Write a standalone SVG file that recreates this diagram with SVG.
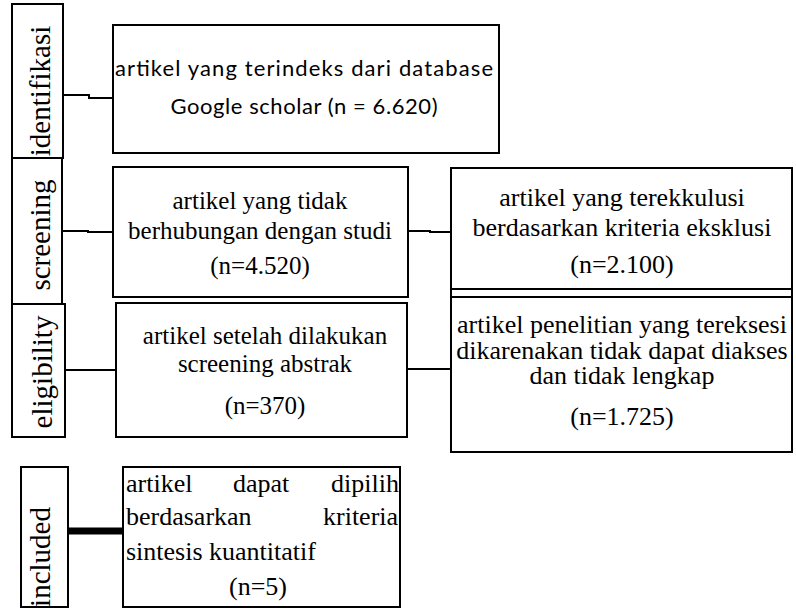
<svg xmlns="http://www.w3.org/2000/svg" width="796" height="609" viewBox="0 0 796 609">
<style>
.box{fill:#fff;stroke:#000;stroke-width:2}
.serif{font-family:'Liberation Serif','Times New Roman',Times,'DejaVu Serif',serif;fill:#000}
.lbl{font-size:29px;text-anchor:middle}
.t{font-size:25px;text-anchor:middle}
.t26{font-size:26px;text-anchor:middle}
.st{text-anchor:start}
.s{font-family:Lato,'Liberation Sans',sans-serif;font-size:22px;fill:#000;text-anchor:middle}
.c{fill:none;stroke:#000;stroke-width:2}
</style>
<rect width="796" height="609" fill="#fff"/>
<g id="connectors">
<path class="c" d="M63,95 H89 V98 H113"/>
<path class="c" d="M62,231 H88 V232 H113"/>
<path class="c" d="M408,231 H430 V232 H451"/>
<path class="c" d="M65,370 H116"/>
<path class="c" d="M407,369 H451"/>
<path d="M68,531 H123" fill="none" stroke="#000" stroke-width="7"/>
</g>
<g id="label-identifikasi">
<rect class="box" x="12" y="4" width="51" height="154"/>
<text class="serif lbl" font-family="Liberation Serif, serif" transform="translate(50,91) rotate(-90)">identifikasi</text>
</g>
<g id="label-screening">
<rect class="box" x="12" y="158" width="50" height="146"/>
<text class="serif lbl" font-family="Liberation Serif, serif" transform="translate(50,235) rotate(-90)">screening</text>
</g>
<g id="label-eligibility">
<rect class="box" x="12" y="304" width="53" height="133"/>
<text class="serif lbl" font-family="Liberation Serif, serif" transform="translate(52,372) rotate(-90)">eligibility</text>
</g>
<g id="label-included">
<rect class="box" x="21" y="467" width="47" height="140"/>
<text class="serif lbl" font-family="Liberation Serif, serif" transform="translate(50,557) rotate(-90)">included</text>
</g>
<g id="node-identified">
<rect class="box" x="113" y="25" width="386" height="128"/>
<text class="s" x="304" y="76" textLength="378">artikel yang terindeks dari database</text>
<text class="s" x="304" y="114" textLength="267">Google scholar (n = 6.620)</text>
</g>
<g id="node-unrelated">
<rect class="box" x="113" y="167" width="295" height="130"/>
<text class="serif t" x="260" y="209">artikel yang tidak</text>
<text class="serif t" x="260" y="239">berhubungan dengan studi</text>
<text class="serif t" x="260" y="274">(n=4.520)</text>
</g>
<g id="node-excluded">
<rect class="box" x="451" y="168" width="341" height="121"/>
<text class="serif t26" x="622" y="206">artikel yang terekkulusi</text>
<text class="serif t26" x="622" y="236">berdasarkan kriteria eksklusi</text>
<text class="serif t26" x="622" y="273">(n=2.100)</text>
</g>
<g id="node-abstract">
<rect class="box" x="116" y="303" width="291" height="134"/>
<text class="serif t" x="265" y="344">artikel setelah dilakukan</text>
<text class="serif t" x="265" y="372">screening abstrak</text>
<text class="serif t" x="265" y="414">(n=370)</text>
</g>
<g id="node-inaccessible">
<rect class="box" x="451" y="289" width="341" height="163"/>
<line x1="451" y1="297" x2="792" y2="297" stroke="#000" stroke-width="2"/>
<text class="serif t26" x="622" y="333">artikel penelitian yang tereksesi</text>
<text class="serif t26" x="622" y="359">dikarenakan tidak dapat diakses</text>
<text class="serif t26" x="622" y="384">dan tidak lengkap</text>
<text class="serif t26" x="622" y="425">(n=1.725)</text>
</g>
<g id="node-included">
<rect class="box" x="123" y="467" width="277" height="140"/>
<text class="serif t26 st"><tspan x="126" y="492">artikel</tspan> <tspan x="233" y="492">dapat</tspan> <tspan x="331" y="492">dipilih</tspan></text>
<text class="serif t26 st"><tspan x="126" y="525">berdasarkan</tspan> <tspan x="323" y="525">kriteria</tspan></text>
<text class="serif t26 st" x="126" y="560">sintesis kuantitatif</text>
<text class="serif t26" x="258" y="595">(n=5)</text>
</g>
</svg>
